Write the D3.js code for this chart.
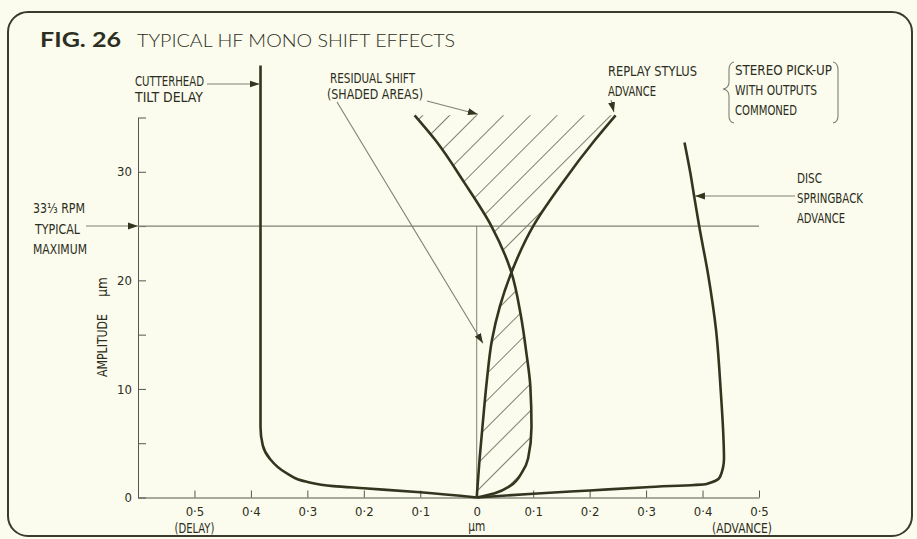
<!DOCTYPE html>
<html>
<head>
<meta charset="utf-8">
<script src="https://cdn.jsdelivr.net/npm/d3@7"></script>
<style>
  html, body { margin: 0; padding: 0; background: #fbfcee; }
  svg { display: block; }
  .lbl { font-family: "DejaVu Sans Condensed", "DejaVu Sans", sans-serif; font-stretch: condensed; font-size: 13.5px; fill: #2c2d20; }
  .axis text { font-family: "DejaVu Sans Condensed", "DejaVu Sans", sans-serif; font-stretch: condensed; font-size: 13px; fill: #2c2d20; }
  .axis path, .axis line { stroke: #55574a; stroke-width: 1; }
</style>
</head>
<body>
<div id="chart"></div>
<script>
// amplitude (um) vs shift (um)
const cutterhead = [
  [-0.383, 39.8], [-0.383, 20], [-0.383, 6.5], [-0.379, 4.8], [-0.367, 3.6],
  [-0.337, 2.25], [-0.301, 1.45], [-0.254, 1.05], [-0.2, 0.85], [-0.1, 0.48], [0, 0]
]
const springback = [
  [0.368, 32.7], [0.378, 30], [0.385, 27.8], [0.394, 25], [0.41, 20.5], [0.424, 15.4], [0.432, 10],
  [0.437, 5.5], [0.438, 3.6], [0.431, 1.9], [0.407, 1.25], [0.3, 0.95], [0.2, 0.65], [0.1, 0.35], [0, 0]
]
const stylus = [
  [0.246, 35.2], [0.209, 32.9], [0.152, 29], [0.1, 25], [0.062, 20.8], [0.041, 17.6],
  [0.027, 14.5], [0.018, 10.8], [0.011, 7], [0.005, 3.5], [0, 0]
]
const residual = [
  [-0.11, 35.2], [-0.073, 32.9], [-0.022, 29], [0.026, 25], [0.061, 20.8], [0.078, 16.8],
  [0.088, 13.3], [0.095, 10.2], [0.097, 6.5], [0.091, 3.6], [0.08, 2.3], [0.06, 1.1], [0.032, 0.4], [0, 0]
]
const xTicks = [-0.5, -0.4, -0.3, -0.2, -0.1, 0, 0.1, 0.2, 0.3, 0.4, 0.5]
const yTicks = [0, 5, 10, 15, 20, 25, 30, 35]
const yLabelled = [0, 10, 20, 30]
const rpmLine = 25

const width = 917, height = 539
const ink = "#33351f", thin = "#7e8170"

const svg = d3.select("#chart").append("svg")
  .attr("width", width).attr("height", height)

const defs = svg.append("defs")
defs.append("marker")
  .attr("id", "arrow")
  .attr("viewBox", "0 -4 10 8")
  .attr("refX", 10).attr("refY", 0)
  .attr("markerUnits", "userSpaceOnUse")
  .attr("markerWidth", 10).attr("markerHeight", 8)
  .attr("orient", "auto")
  .append("path").attr("d", "M0,-3.5L10,0L0,3.5Z").attr("fill", ink)

const hatch = defs.append("pattern")
  .attr("id", "hatch")
  .attr("patternUnits", "userSpaceOnUse")
  .attr("width", 19).attr("height", 19)
  .attr("patternTransform", "rotate(45)")
hatch.append("line")
  .attr("x1", 0).attr("y1", 0).attr("x2", 0).attr("y2", 19)
  .attr("stroke", "#7f816e").attr("stroke-width", 2)

// frame
svg.append("rect")
  .attr("x", 8).attr("y", 12).attr("width", 904).attr("height", 524)
  .attr("rx", 20)
  .attr("fill", "#fbfcee").attr("stroke", "#3a3b2c").attr("stroke-width", 2)

const x = d3.scaleLinear().domain([-0.6, 0.5]).range([138, 759])
const y = d3.scaleLinear().domain([0, 35]).range([497.5, 117.5])

const line = d3.line()
  .x(d => x(d[0]))
  .y(d => y(d[1]))
  .curve(d3.curveMonotoneY)

// shaded areas between residual and stylus
const stylusUp = stylus.slice().reverse()
const hatchPath = line(residual) + line(stylusUp).replace(/^M/, "L") + "Z"
svg.append("path").attr("d", hatchPath).attr("fill", "url(#hatch)").attr("stroke", "none")

// axes
svg.append("g").attr("class", "axis")
  .attr("transform", `translate(0,${y(0)})`)
  .call(d3.axisBottom(x).tickValues(xTicks).tickSizeInner(-7).tickSizeOuter(0).tickPadding(9)
    .tickFormat(d => d === 0 ? "0" : "0\u00b7" + Math.round(Math.abs(d) * 10)))

svg.append("g").attr("class", "axis")
  .attr("transform", `translate(${x(-0.6)},0)`)
  .call(d3.axisLeft(y).tickValues(yTicks).tickSizeInner(-8).tickSizeOuter(0).tickPadding(6)
    .tickFormat(d => yLabelled.includes(d) ? d : ""))

// reference lines
svg.append("line")
  .attr("x1", x(-0.6)).attr("x2", x(0.5)).attr("y1", y(rpmLine)).attr("y2", y(rpmLine))
  .attr("stroke", thin).attr("stroke-width", 1.2)
svg.append("line")
  .attr("x1", x(0)).attr("x2", x(0)).attr("y1", y(rpmLine)).attr("y2", y(0))
  .attr("stroke", thin).attr("stroke-width", 1)

// curves
const curves = [cutterhead, springback, stylus, residual]
svg.selectAll(".curve").data(curves).enter().append("path")
  .attr("class", "curve")
  .attr("d", line)
  .attr("fill", "none")
  .attr("stroke", ink)
  .attr("stroke-width", 2.6)
  .attr("stroke-linejoin", "round")

// leaders
const arrows = [
  [207, 84, x(-0.383) - 1, 84],
  [86, y(rpmLine), x(-0.6), y(rpmLine)],
  [427, 101, x(0.002), y(35.3)],
  [337, 102, x(0.011), y(14.2)],
  [611, 100, x(0.243), y(35.5)],
  [795, 196, x(0.383) + 2, 196]
]
svg.selectAll(".leader").data(arrows).enter().append("line")
  .attr("class", "leader")
  .attr("x1", d => d[0]).attr("y1", d => d[1])
  .attr("x2", d => d[2]).attr("y2", d => d[3])
  .attr("stroke", thin).attr("stroke-width", 1.1)
  .attr("marker-end", "url(#arrow)")

// braces
svg.append("path")
  .attr("d", "M734,62 Q729,63 729,70 L729,82 Q729,88 723,89 Q729,90 729,96 L729,116 Q729,122 734,123")
  .attr("fill", "none").attr("stroke", thin).attr("stroke-width", 1.1)
svg.append("path")
  .attr("d", "M833,62 Q838,63 838,70 L838,116 Q838,122 833,123")
  .attr("fill", "none").attr("stroke", thin).attr("stroke-width", 1.1)

// text
function label(tx, ty, str, len, anchor) {
  const t = svg.append("text").attr("class", "lbl")
    .attr("x", tx).attr("y", ty).attr("text-anchor", anchor || "start").text(str)
  if (len) t.attr("textLength", len).attr("lengthAdjust", "spacingAndGlyphs")
  return t
}

svg.append("text").attr("x", 40).attr("y", 47)
  .attr("font-family", "Lato, 'Open Sans', sans-serif").attr("font-weight", 700)
  .attr("font-size", 21).attr("fill", "#2d2e22")
  .attr("textLength", 81).attr("lengthAdjust", "spacingAndGlyphs")
  .text("FIG. 26")
svg.append("text").attr("x", 137).attr("y", 47)
  .attr("font-family", "Lato, 'Open Sans', sans-serif").attr("font-weight", 300)
  .attr("font-size", 17).attr("fill", "#2d2e22")
  .attr("textLength", 318).attr("lengthAdjust", "spacingAndGlyphs")
  .text("TYPICAL HF MONO SHIFT EFFECTS")

label(135, 86, "CUTTERHEAD", 69)
label(135, 102, "TILT DELAY", 68)
label(330, 83, "RESIDUAL SHIFT", 85)
label(327, 99, "(SHADED AREAS)", 96)
label(608, 76, "REPLAY STYLUS", 89)
label(608, 96, "ADVANCE", 48)
label(735, 75, "STEREO PICK-UP", 97)
label(735, 95, "WITH OUTPUTS", 82)
label(735, 115, "COMMONED", 62)
label(797, 183, "DISC", 25)
label(797, 203, "SPRINGBACK", 66)
label(797, 223, "ADVANCE", 48)
label(33, 213, "33\u2153 RPM", 52)
label(35, 234, "TYPICAL", 45)
label(33, 254, "MAXIMUM", 54)
label(x(-0.5), 533, "(DELAY)", 40, "middle")
label(772, 533, "(ADVANCE)", 60, "end")
label(x(0), 531, "\u03bcm", 17, "middle")

svg.append("text").attr("class", "lbl")
  .attr("transform", `translate(107,${(y(11) + y(17)) / 2}) rotate(-90)`)
  .attr("text-anchor", "middle").attr("textLength", 63).attr("lengthAdjust", "spacingAndGlyphs")
  .text("AMPLITUDE")
svg.append("text").attr("class", "lbl")
  .attr("transform", `translate(107,${y(19.4)}) rotate(-90)`)
  .attr("text-anchor", "middle")
  .text("\u03bcm")
</script>
</body>
</html>
